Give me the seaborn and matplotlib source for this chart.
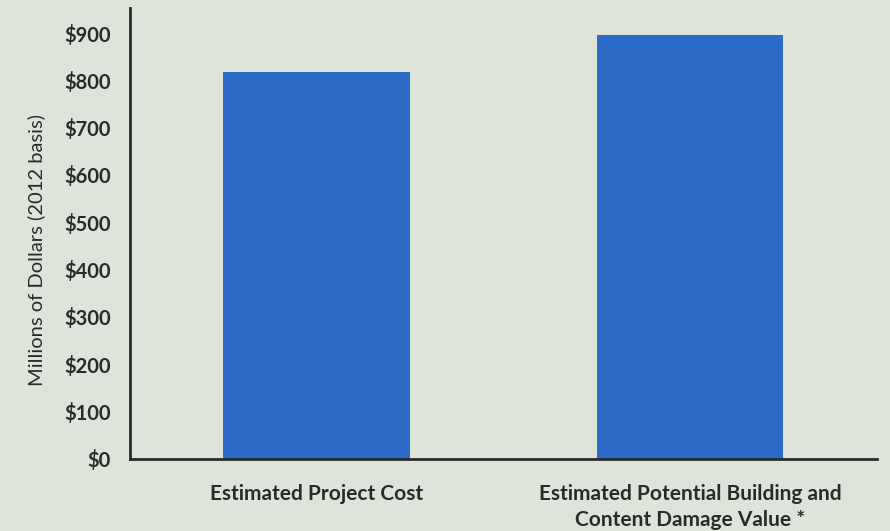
import matplotlib.pyplot as plt
import matplotlib.ticker as mticker
import pandas as pd
import seaborn as sns

# --------------------------------------------------------------
# Data
# --------------------------------------------------------------
categories = [
    "Estimated Project Cost",
    "Estimated Potential Building and\nContent Damage Value *",
]
values = [818, 896]
y_ticks = [0, 100, 200, 300, 400, 500, 600, 700, 800, 900]

df = pd.DataFrame({"category": categories, "value": values})

bg = "#dde5da"
bar_color = "#2d6bc9"
ink = "#2a2a2a"

sns.set_style("white")
plt.rcParams["font.family"] = ["Lato", "DejaVu Sans"]

fig = plt.figure(figsize=(8.9, 5.31), dpi=100, facecolor=bg)
ax = fig.add_axes([0.146, 0.136, 0.839, 0.849])
ax.set_facecolor(bg)

sns.barplot(data=df, x="category", y="value", color=bar_color, width=0.5,
            saturation=1, edgecolor="none", linewidth=0, ax=ax)

ax.set_ylim(0, 953)
ax.set_xlim(-0.5, 1.5)
ax.set_yticks(y_ticks)
ax.yaxis.set_major_formatter(mticker.StrMethodFormatter("${x:,.0f}"))
for lbl in ax.get_yticklabels():
    lbl.set_fontweight("bold")
    lbl.set_fontsize(14.5)
    lbl.set_color(ink)

# category labels under bars, ticks between categories (Excel style)
ax.set_xticks([0.5, 1.5])
ax.set_xticklabels([])
ax.set_xticks([0, 1], minor=True)
ax.set_xticklabels(categories, minor=True, fontweight="bold", fontsize=15,
                   color=ink, linespacing=1.4)
ax.tick_params(axis="x", which="minor", length=0, pad=18)
ax.tick_params(axis="x", which="major", length=6, width=1.5, color=ink,
               direction="out")
ax.tick_params(axis="y", length=6, width=1.5, color=ink, direction="out", pad=8)

ax.set_xlabel("")
ax.set_ylabel("Millions of Dollars (2012 basis)", fontsize=14.5, color=ink)
ax.yaxis.set_label_coords(-0.113, 0.463)

sns.despine(ax=ax, top=True, right=True)
for side in ["left", "bottom"]:
    ax.spines[side].set_color(ink)
    ax.spines[side].set_linewidth(2)

fig.savefig("out.png", dpi=100, facecolor=bg)
